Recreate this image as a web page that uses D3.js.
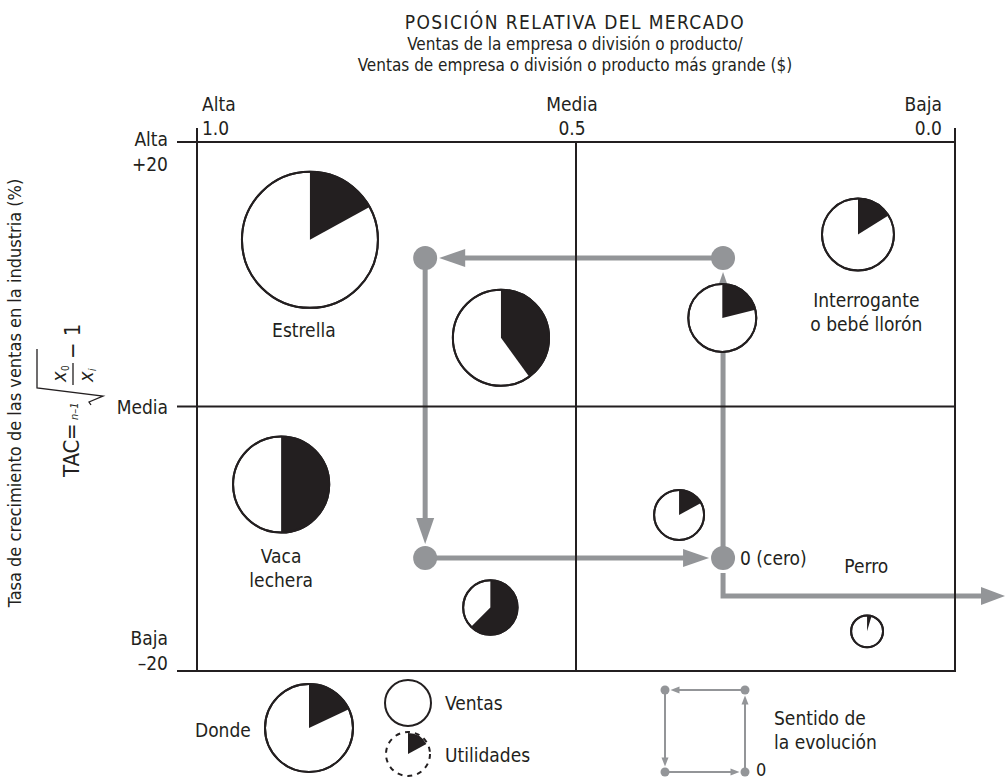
<!DOCTYPE html>
<html>
<head>
<meta charset="utf-8">
<script src="https://cdn.jsdelivr.net/npm/d3@7"></script>
<style>
body{margin:0;background:#fff}
text{fill:#231f20}
</style>
</head>
<body>
<svg id="chart" width="1007" height="782"></svg>
<script>
// ---- data ----
var titleLines = ["POSICIÓN RELATIVA DEL MERCADO",
	"Ventas de la empresa o división o producto/",
	"Ventas de empresa o división o producto más grande ($)"];
var yTitle = "Tasa de crecimiento de las ventas en la industria (%)";

var xTickValues = [1.0, 0.5, 0.0];
var xTickNames = ["Alta", "Media", "Baja"];
var xTickLabels = ["1.0", "0.5", "0.0"];
var yTickValues = [20, 0, -20];
var yTickNames = ["Alta", "Media", "Baja"];
var yTickLabels = ["+20", "", "\u201320"];

// products: relative share (x), growth % (y), sales (circle area), profit (black slice)
var productShare  = [0.851, 0.599, 0.128, 0.307, 0.889, 0.613, 0.364, 0.116];
var productGrowth = [12.6, 5.2, 13.0, 6.7, -5.9, -15.2, -8.2, -17.0];
var productSales  = [100, 50, 28, 25, 50, 16, 13.5, 5.5];
var productProfit = [17, 20, 4.5, 5.3, 25, 10, 2.3, 0.25];

var quadrantNames  = [["Estrella"], ["Interrogante", "o bebé llorón"], ["Vaca", "lechera"], ["Perro"]];
var quadrantShare  = [0.859, 0.117, 0.889, 0.117];
var quadrantGrowth = [5.26, 7.52, -11.83, -12.59];

// evolution path: 0 -> up -> left -> down -> back to 0
var pathShare  = [0.306, 0.306, 0.699, 0.699, 0.306];
var pathGrowth = [-11.46, 11.23, 11.23, -11.46, -11.46];
var exitShare  = [0.306, 0.306, -0.066];
var exitGrowth = [-11.46, -14.33, -14.33];

var legendSales = 42, legendProfit = 0.18;

// ---- drawing ----
var FONT = '"Liberation Sans Narrow", "Arial Narrow", "DejaVu Sans Condensed", sans-serif';
var INK = '#231f20', GREY = '#939598';

var svg = d3.select('#chart');
svg.style('font-family', FONT);

var x = d3.scaleLinear().domain([1, 0]).range([197, 955]);
var y = d3.scaleLinear().domain([20, -20]).range([142, 671]);
var r = d3.scaleSqrt().domain([0, 100]).range([0, 68]);

// title
var titleSize = ['19px', '17px', '17px'];
svg.append('g').selectAll('text')
	.data(titleLines)
	.enter().append('text')
	.attr('x', 575)
	.attr('y', function(d, i){ return 29 + i * 21; })
	.attr('text-anchor', 'middle')
	.style('font-size', function(d, i){ return titleSize[i]; })
	.style('letter-spacing', function(d, i){ return i == 0 ? '1.4px' : null; })
	.text(function(d){ return d; });

// y title
svg.append('text')
	.attr('transform', 'translate(21,393) rotate(-90)')
	.attr('text-anchor', 'middle')
	.style('font-size', '18px')
	.text(yTitle);

// formula TAC = n-1 root(x0/xi) - 1
var f = svg.append('g').attr('transform', 'translate(79,477) rotate(-90)');
f.append('text').attr('x', 0).attr('y', 0).style('font-size', '22px').text('TAC');
f.append('text').attr('x', 37).attr('y', 0).style('font-size', '22px').text('=');
f.append('text').attr('x', 57).attr('y', -1).style('font-size', '11px').style('font-style', 'italic').text('n\u20131');
f.append('path')
	.attr('d', 'M72,12 L75,10 L81,24 L89,-42 L128,-42')
	.attr('fill', 'none').attr('stroke', INK).attr('stroke-width', 1.3);
f.append('line').attr('x1', 92).attr('x2', 114).attr('y1', -6).attr('y2', -6)
	.attr('stroke', INK).attr('stroke-width', 1.3);
f.append('text').attr('x', 95).attr('y', -13).style('font-size', '20px').style('font-style', 'italic').text('x');
f.append('text').attr('x', 106).attr('y', -10).style('font-size', '10px').text('0');
f.append('text').attr('x', 95).attr('y', 14).style('font-size', '20px').style('font-style', 'italic').text('x');
f.append('text').attr('x', 106).attr('y', 17).style('font-size', '10px').style('font-style', 'italic').text('i');
f.append('text').attr('x', 118).attr('y', 1).style('font-size', '22px').text('\u2212 1');

// evolution arrows (under the grid lines)
function arrowHead(g, tx, ty, dx, dy, len, half, color){
	var bx = tx - dx * len, by = ty - dy * len;
	var pts = [[tx, ty], [bx - dy * half, by + dx * half], [bx + dy * half, by - dx * half]];
	g.append('polygon').attr('points', pts.map(function(p){ return p.join(','); }).join(' '))
		.attr('fill', color);
}

function drawEvolution(g, px, py, nodeR, lineW, headLen, headHalf, gap){
	for (var i = 0; i < px.length - 1; i++) {
		var x0 = px[i], y0 = py[i], x1 = px[i + 1], y1 = py[i + 1];
		var L = Math.sqrt((x1 - x0) * (x1 - x0) + (y1 - y0) * (y1 - y0));
		var dx = (x1 - x0) / L, dy = (y1 - y0) / L;
		var tx = x1 - dx * (nodeR + gap), ty = y1 - dy * (nodeR + gap);
		g.append('line')
			.attr('x1', x0).attr('y1', y0)
			.attr('x2', tx - dx * headLen * 0.8).attr('y2', ty - dy * headLen * 0.8)
			.attr('stroke', GREY).attr('stroke-width', lineW);
		arrowHead(g, tx, ty, dx, dy, headLen, headHalf, GREY);
	}
	g.selectAll('circle.node')
		.data(d3.range(px.length - 1))
		.enter().append('circle')
		.attr('class', 'node')
		.attr('cx', function(i){ return px[i]; })
		.attr('cy', function(i){ return py[i]; })
		.attr('r', nodeR)
		.attr('fill', GREY);
}

var evoG = svg.append('g');
drawEvolution(evoG, pathShare.map(x), pathGrowth.map(y), 12, 5, 26, 9, 2);

// exit arrow from the zero point
var ex = exitShare.map(x), ey = exitGrowth.map(y);
evoG.append('path')
	.attr('d', 'M' + ex[0] + ',' + (ey[0] + 15) + ' L' + ex[1] + ',' + ey[1] + ' L' + (ex[2] - 20) + ',' + ey[2])
	.attr('fill', 'none').attr('stroke', GREY).attr('stroke-width', 5);
arrowHead(evoG, ex[2], ey[2], 1, 0, 24, 9, GREY);

// grid box and ticks
var grid = svg.append('g').attr('stroke', INK).attr('stroke-width', 2).attr('fill', 'none');
grid.append('rect')
	.attr('x', x(1)).attr('y', y(20))
	.attr('width', x(0) - x(1)).attr('height', y(-20) - y(20));
grid.append('line').attr('x1', x(0.5)).attr('x2', x(0.5)).attr('y1', y(20)).attr('y2', y(-20));
grid.append('line').attr('x1', x(1)).attr('x2', x(0)).attr('y1', y(0)).attr('y2', y(0));
grid.selectAll('line.xt')
	.data([xTickValues[0], xTickValues[2]])
	.enter().append('line').attr('class', 'xt')
	.attr('x1', x).attr('x2', x)
	.attr('y1', y(20)).attr('y2', y(20) - 14);
grid.selectAll('line.yt')
	.data(yTickValues)
	.enter().append('line').attr('class', 'yt')
	.attr('x1', x(1) - 20).attr('x2', x(1))
	.attr('y1', y).attr('y2', y);

// x tick labels
var xAnchor = ['start', 'middle', 'end'];
var xShift = [5, -4, -13];
xTickValues.forEach(function(v, i){
	svg.append('text')
		.attr('x', x(v) + xShift[i]).attr('y', 111)
		.attr('text-anchor', xAnchor[i])
		.style('font-size', '19px')
		.text(xTickNames[i]);
	svg.append('text')
		.attr('x', x(v) + xShift[i]).attr('y', 135)
		.attr('text-anchor', xAnchor[i])
		.style('font-size', '19px')
		.text(xTickLabels[i]);
});

// y tick labels
var yNameDy = [4, 7, -26], yLabelDy = [29, 0, -1];
yTickValues.forEach(function(v, i){
	svg.append('text')
		.attr('x', 168).attr('y', y(v) + yNameDy[i])
		.attr('text-anchor', 'end')
		.style('font-size', '19px')
		.text(yTickNames[i]);
	if (yTickLabels[i]) {
		svg.append('text')
			.attr('x', 168).attr('y', y(v) + yLabelDy[i])
			.attr('text-anchor', 'end')
			.style('font-size', '19px')
			.text(yTickLabels[i]);
	}
});

// pies
var pie = d3.pie().sort(null).value(function(d){ return d; });
function drawPie(g, cx, cy, radius, sales, profit, dashed){
	var pg = g.append('g').attr('transform', 'translate(' + cx + ',' + cy + ')');
	pg.append('circle').attr('r', radius)
		.attr('fill', dashed ? 'none' : '#fff')
		.attr('stroke', INK).attr('stroke-width', 2)
		.attr('stroke-dasharray', dashed ? '5,5' : null);
	var arcs = pie([profit, sales - profit]);
	pg.append('path')
		.attr('d', d3.arc().innerRadius(0).outerRadius(dashed ? radius - 1 : radius)(arcs[0]))
		.attr('fill', INK);
	if (!dashed) {
		pg.append('circle').attr('r', radius)
			.attr('fill', 'none').attr('stroke', INK).attr('stroke-width', 2);
	}
}

var pieG = svg.append('g');
productShare.forEach(function(s, i){
	drawPie(pieG, x(s), y(productGrowth[i]), r(productSales[i]), productSales[i], productProfit[i], false);
});

// quadrant names
quadrantNames.forEach(function(lines, i){
	svg.append('g').selectAll('text')
		.data(lines)
		.enter().append('text')
		.attr('x', x(quadrantShare[i]))
		.attr('y', function(d, j){ return y(quadrantGrowth[i]) + j * 24; })
		.attr('text-anchor', 'middle')
		.style('font-size', '19px')
		.text(function(d){ return d; });
});

svg.append('text')
	.attr('x', x(pathShare[0]) + 17).attr('y', y(pathGrowth[0]) + 7)
	.style('font-size', '19px')
	.text('0 (cero)');

// ---- legend ----
var lg = svg.append('g');
lg.append('text').attr('x', 195).attr('y', 737).style('font-size', '19px').text('Donde');
drawPie(lg, 309, 728, 44, 1, legendProfit, false);
lg.append('circle').attr('cx', 408).attr('cy', 703).attr('r', 23)
	.attr('fill', '#fff').attr('stroke', INK).attr('stroke-width', 2);
lg.append('text').attr('x', 445).attr('y', 710).style('font-size', '19px').text('Ventas');
drawPie(lg, 408, 754, 22, 1, 0.17, true);
lg.append('text').attr('x', 445).attr('y', 762).style('font-size', '19px').text('Utilidades');

var miniX = [745, 745, 665, 665, 745], miniY = [772, 690, 690, 772, 772];
drawEvolution(lg.append('g'), miniX, miniY, 4.5, 2, 9, 3.5, 1);
lg.append('text').attr('x', 756).attr('y', 776).style('font-size', '18px').text('0');
lg.append('text').attr('x', 774).attr('y', 725).style('font-size', '19px').text('Sentido de');
lg.append('text').attr('x', 774).attr('y', 749).style('font-size', '19px').text('la evolución');
</script>
</body>
</html>
